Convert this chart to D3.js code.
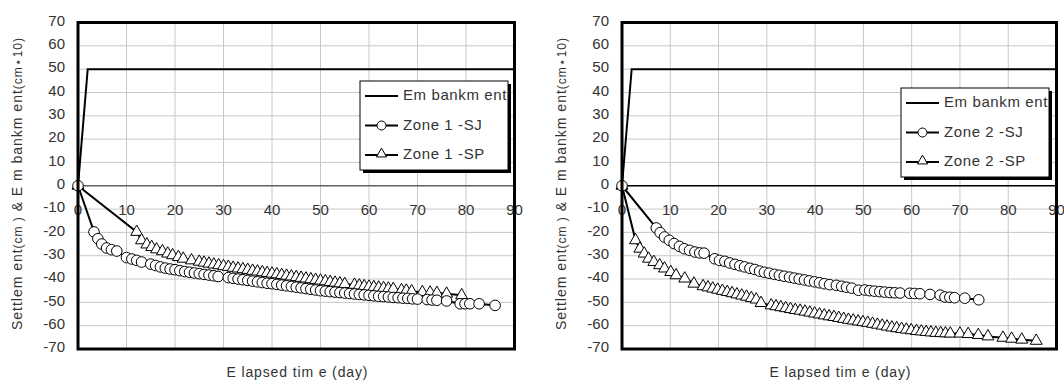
<!DOCTYPE html>
<html>
<head>
<meta charset="utf-8">
<script src="https://cdn.jsdelivr.net/npm/d3@7"></script>
<style>
  body { margin: 0; background: #fff; }
  svg text { font-family: "Liberation Sans", Arial, sans-serif; fill: #333; }
</style>
</head>
<body>
<div id="chart"></div>
<script>
// x ticks (days) and y ticks
const xTicks = [0, 10, 20, 30, 40, 50, 60, 70, 80, 90];
const yTicks = [70, 60, 50, 40, 30, 20, 10, 0, -10, -20, -30, -40, -50, -60, -70];

// embankment height (cm*10) vs day, same for both zones
const embankment = [[0, 0], [2, 50], [90, 50]];

// Zone 1 settlement [day, cm]
const zone1SJ = [[0, 0], [3.3, -19.8], [4.1, -22.7], [4.9, -25], [5.9, -26.7], [6.9, -27.4], [8, -28],
  [10, -30.8], [11.1, -31.4], [12.1, -32], [13.1, -32.7], [15, -33.6], [16, -34.2], [17, -34.8],
  [18, -35.3], [19, -35.7], [20, -36], [21, -36.4], [22, -36.8], [23, -37.1], [24, -37.4], [25, -37.7],
  [26, -38], [27, -38.3], [28, -38.6], [28.9, -38.9], [31, -39.4], [32, -39.7], [33, -40], [34, -40.3],
  [35, -40.6], [36, -40.9], [37, -41.2], [38, -41.5], [39, -41.8], [40, -42], [41, -42.3], [42, -42.6],
  [43, -42.9], [44, -43.2], [45, -43.5], [46, -43.8], [47, -44.1], [48, -44.4], [49, -44.7], [50, -45],
  [51, -45.2], [52, -45.4], [53, -45.6], [54, -45.8], [55, -46], [56, -46.2], [57, -46.4], [58, -46.6],
  [59, -46.8], [60, -47], [61, -47.2], [62, -47.4], [63, -47.5], [64, -47.7], [65, -47.9], [66, -48],
  [67, -48.2], [68, -48.3], [69, -48.5], [70, -48.6], [72, -48.8], [73, -49], [74, -49.1], [76, -49.4],
  [78.8, -50.6], [79.8, -50.6], [80.8, -50.6], [82.7, -50.6], [86, -51.3]];

const zone1SP = [[0, 0], [12.1, -19.8], [13.1, -23.4], [14.2, -25.2], [15.2, -26.3], [16.2, -27.3],
  [17.4, -28.1], [18.5, -29.1], [19.5, -29.8], [20.7, -30.6], [21.7, -31.3], [23.4, -32], [25, -32.6],
  [26, -33], [27, -33.4], [28, -33.8], [29, -34.1], [30, -34.5], [31, -34.8], [32, -35.2], [33, -35.5],
  [34, -35.8], [35, -36.1], [36, -36.5], [37, -36.8], [38, -37.1], [39, -37.4], [40, -37.7], [41, -38],
  [42, -38.3], [43, -38.6], [44, -38.9], [45, -39.2], [46, -39.5], [47, -39.8], [48, -40.1], [49, -40.4],
  [50, -40.7], [51, -41], [52, -41.3], [53, -41.6], [54, -41.9], [55, -42.2], [57, -42.5], [58, -42.8],
  [59, -43.1], [60, -43.3], [61, -43.5], [62, -43.7], [63, -43.9], [64, -44.1], [65, -44.3], [66.7, -44.8],
  [67.7, -45], [68.8, -45.3], [71, -45.6], [72.6, -45.8], [74, -46], [76, -46.3], [79.1, -47]];

// Zone 2 settlement [day, cm]
const zone2SJ = [[0, 0], [7.1, -18.1], [7.9, -20.1], [8.8, -22], [9.8, -23.4], [10.8, -24.8], [11.9, -26],
  [12.9, -27], [14, -27.7], [15.1, -28.4], [16.1, -28.8], [17, -28.9], [19.2, -31.3], [20.2, -32],
  [21.3, -32.4], [22.3, -33.1], [23.4, -33.7], [24.4, -34.3], [25.4, -34.8], [26.5, -35.4], [27.5, -35.9],
  [28.5, -36.6], [29.5, -37.1], [30.5, -37.5], [31.6, -38], [32.6, -38.4], [33.6, -38.8], [34.7, -39.2],
  [35.7, -39.6], [36.7, -40], [37.8, -40.4], [38.8, -40.8], [39.9, -41.2], [40.9, -41.6], [41.9, -42],
  [43, -42.4], [44.4, -42.7], [45.5, -43.1], [46.5, -43.5], [47.6, -43.9], [49, -44.8], [50.3, -44.7],
  [51.3, -45], [52.3, -45.2], [53.4, -45.4], [54.4, -45.6], [55.5, -45.8], [56.5, -45.9], [57.6, -46],
  [59.6, -46.1], [60.6, -46.2], [61.7, -46.3], [63.8, -46.6], [65.9, -46.9], [66.9, -47.7], [67.9, -47.8],
  [68.9, -48], [71, -48.2], [73.9, -48.9]];

const zone2SP = [[0, 0], [2.8, -23.4], [3.7, -27], [4.6, -29.1], [5.5, -31.3], [6.6, -32.7], [7.8, -34.1],
  [8.8, -35.5], [10.1, -37], [11.2, -38.4], [13, -39.8], [14.9, -42], [16.8, -43.1], [17.8, -43.6],
  [18.8, -44.1], [19.8, -44.6], [20.8, -45.1], [21.8, -45.6], [22.8, -46.1], [23.8, -46.6], [24.8, -47.1],
  [25.8, -47.6], [26.8, -48.2], [27.8, -48.8], [28.8, -50.3], [30.9, -51.3], [31.9, -51.7], [32.9, -52.1],
  [33.9, -52.5], [34.9, -52.9], [35.9, -53.3], [36.9, -53.6], [37.9, -54], [38.9, -54.4], [39.9, -54.8],
  [40.9, -55.2], [41.9, -55.6], [42.9, -56], [43.9, -56.3], [44.9, -56.7], [45.9, -57.1], [46.9, -57.5],
  [47.9, -57.8], [48.9, -58.2], [49.9, -58.5], [50.9, -58.8], [51.9, -59.2], [52.9, -59.6], [53.9, -60],
  [54.9, -60.4], [55.9, -60.8], [56.9, -61.1], [57.9, -61.4], [58.9, -61.7], [59.9, -62], [61, -62.3],
  [62, -62.5], [63, -62.7], [64, -62.9], [65, -63.1], [66, -63.2], [67, -63.3], [68, -63.4], [70, -63.4],
  [71.7, -63.6], [73.8, -64], [75.8, -64.6], [78.9, -65.2], [80.7, -65.6], [82.8, -66], [85.8, -66.5]];

const legend1 = ["Em bankm ent", "Zone 1 -SJ", "Zone 1 -SP"];
const legend2 = ["Em bankm ent", "Zone 2 -SJ", "Zone 2 -SP"];

const width = 1064;
const height = 381;

const svg = d3.select('#chart').append('svg')
    .attr('width', width)
    .attr('height', height);

function drawChart(cfg) {
    const x = d3.scaleLinear().domain([0, 90]).range([cfg.left, cfg.right]);
    const y = d3.scaleLinear().domain([-70, 70]).range([349, 22.5]);
    const g = svg.append('g');

    // grid
    g.append('g').selectAll('line').data(xTicks).enter().append('line')
        .attr('x1', d => x(d)).attr('x2', d => x(d))
        .attr('y1', y(70)).attr('y2', y(-70))
        .attr('stroke', '#c8c8c8').attr('stroke-width', 1);
    g.append('g').selectAll('line').data(yTicks).enter().append('line')
        .attr('x1', x(0)).attr('x2', x(90))
        .attr('y1', d => y(d)).attr('y2', d => y(d))
        .attr('stroke', '#c8c8c8').attr('stroke-width', 1);

    // zero line
    g.append('line')
        .attr('x1', x(0)).attr('x2', x(90))
        .attr('y1', y(0)).attr('y2', y(0))
        .attr('stroke', cfg.zeroColor).attr('stroke-width', 1.5);

    // tick labels
    g.append('g').selectAll('text').data(yTicks).enter().append('text')
        .attr('x', x(0) - 13)
        .attr('y', d => y(d) - 2)
        .attr('dy', '0.35em')
        .attr('text-anchor', 'end')
        .style('font-size', '15px')
        .text(d => d);
    g.append('g').selectAll('text').data(xTicks).enter().append('text')
        .attr('x', d => x(d))
        .attr('y', y(0) + 29)
        .attr('text-anchor', 'middle')
        .style('font-size', '15px')
        .text(d => d);

    const line = d3.line().x(d => x(d[0])).y(d => y(d[1]));

    // embankment
    g.append('path').datum(embankment)
        .attr('d', line).attr('fill', 'none')
        .attr('stroke', '#000').attr('stroke-width', 2);

    const tri = d3.symbol().type(d3.symbolTriangle).size(62);

    // SP (triangles)
    g.append('path').datum(cfg.sp)
        .attr('d', line).attr('fill', 'none')
        .attr('stroke', '#000').attr('stroke-width', 2);
    g.append('g').selectAll('path').data(cfg.sp).enter().append('path')
        .attr('d', tri)
        .attr('transform', d => `translate(${x(d[0])},${y(d[1])})`)
        .attr('fill', '#fff').attr('stroke', '#000').attr('stroke-width', 1);

    // SJ (circles)
    g.append('path').datum(cfg.sj)
        .attr('d', line).attr('fill', 'none')
        .attr('stroke', '#000').attr('stroke-width', 2);
    g.append('g').selectAll('circle').data(cfg.sj).enter().append('circle')
        .attr('cx', d => x(d[0])).attr('cy', d => y(d[1]))
        .attr('r', 5.3)
        .attr('fill', '#fff').attr('stroke', '#000').attr('stroke-width', 1);

    // plot border
    g.append('rect')
        .attr('x', x(0)).attr('y', y(70))
        .attr('width', x(90) - x(0)).attr('height', y(-70) - y(70))
        .attr('fill', 'none').attr('stroke', '#000').attr('stroke-width', 3);

    // axis titles
    g.append('text')
        .attr('x', cfg.xTitleX).attr('y', 377)
        .attr('text-anchor', 'middle')
        .attr('textLength', 141).attr('lengthAdjust', 'spacing')
        .style('font-size', '14px')
        .text('E lapsed tim e (day)');

    const yt = g.append('text')
        .attr('transform', `translate(${cfg.yTitleX},184) rotate(-90)`)
        .attr('text-anchor', 'middle')
        .attr('textLength', 292).attr('lengthAdjust', 'spacing')
        .style('font-size', '14px');
    yt.append('tspan').text('Settlem ent');
    yt.append('tspan').style('font-size', '12px').text('(cm )');
    yt.append('tspan').text(' & E m bankm ent');
    yt.append('tspan').style('font-size', '12px').text('(cm\u22C610)');

    // legend
    const lg = g.append('g').attr('transform', `translate(${cfg.legX},${cfg.legY})`);
    lg.append('rect').attr('x', 3).attr('y', 3).attr('width', 148).attr('height', 89).attr('fill', '#000');
    lg.append('rect').attr('x', 0).attr('y', 0).attr('width', 148).attr('height', 89)
        .attr('fill', '#fff').attr('stroke', '#000').attr('stroke-width', 1);
    cfg.legend.forEach((name, i) => {
        const ly = 14 + i * 29.5;
        lg.append('line').attr('x1', 5).attr('x2', 38).attr('y1', ly + 1).attr('y2', ly + 1)
            .attr('stroke', '#000').attr('stroke-width', 2);
        if (i === 1) {
            lg.append('circle').attr('cx', 21.5).attr('cy', ly + 1).attr('r', 4.5)
                .attr('fill', '#fff').attr('stroke', '#000');
        } else if (i === 2) {
            lg.append('path').attr('d', d3.symbol().type(d3.symbolTriangle).size(45))
                .attr('transform', `translate(21.5,${ly})`)
                .attr('fill', '#fff').attr('stroke', '#000');
        }
        lg.append('text').attr('x', 43).attr('y', ly).attr('dy', '0.35em')
            .style('font-size', '15px')
            .style('letter-spacing', '0.6px')
            .text(name);
    });
}

drawChart({ left: 78, right: 514.5, zeroColor: '#666', sj: zone1SJ, sp: zone1SP, legend: legend1,
    legX: 360, legY: 81, xTitleX: 297, yTitleX: 22 });
drawChart({ left: 622, right: 1056.5, zeroColor: '#000', sj: zone2SJ, sp: zone2SP, legend: legend2,
    legX: 901, legY: 88, xTitleX: 840, yTitleX: 566 });
</script>
</body>
</html>
